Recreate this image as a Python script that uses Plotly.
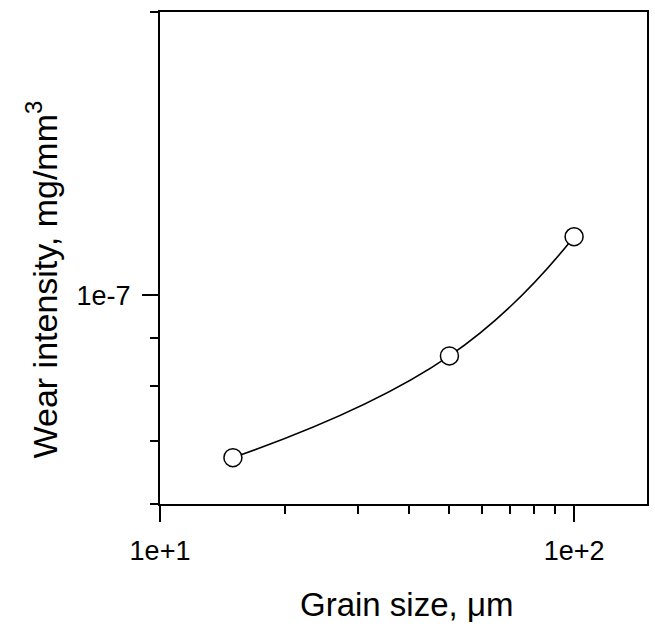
import plotly.graph_objects as go
import math

# Data
grain_size = [15, 50, 100]              # µm
wear_intensity = [6.72e-8, 8.62e-8, 1.154e-7]  # mg/mm^3

x_major_vals = [10, 100]
x_major_text = ["1e+1", "1e+2"]
x_minor_vals = [20, 30, 40, 50, 60, 70, 80, 90]
y_major_vals = [1e-7]
y_major_text = ["1e-7"]
y_minor_vals = [6e-8, 7e-8, 8e-8, 9e-8, 2e-7]

x_range = [10, 150]
y_range = [6e-8, 2e-7]

FONT = "Liberation Sans, Arial, sans-serif"

W, H = 655, 627
L, R, T, B = 160, 6, 12, 123
pw, ph = W - L - R, H - T - B


def px_to_paper_x(px):
    return (px - L) / pw


def px_to_paper_y(py):
    return (H - B - py) / ph


fig = go.Figure()
fig.add_trace(go.Scatter(
    x=grain_size, y=wear_intensity,
    mode="lines+markers",
    line=dict(color="black", width=1.6, shape="spline", smoothing=1.3),
    marker=dict(symbol="circle", size=18, color="white",
                line=dict(color="black", width=1.5)),
    showlegend=False,
))

axis_common = dict(
    showgrid=False, zeroline=False,
    showline=True, linecolor="black", linewidth=2, mirror=True,
    ticks="outside", ticklen=16, tickwidth=2, tickcolor="black",
    tickfont=dict(family=FONT, size=27, color="black"),
    tickmode="array",
)

fig.update_xaxes(
    type="log", range=[math.log10(x_range[0]), math.log10(x_range[1])],
    tickvals=x_major_vals, ticktext=x_major_text,
    minor=dict(tickmode="array", tickvals=x_minor_vals, ticks="outside",
               ticklen=8, tickwidth=2, tickcolor="black", showgrid=False),
    ticklabelstandoff=6,
    **axis_common,
)
fig.update_yaxes(
    type="log", range=[math.log10(y_range[0]), math.log10(y_range[1])],
    tickvals=y_major_vals, ticktext=y_major_text,
    minor=dict(tickmode="array", tickvals=y_minor_vals, ticks="outside",
               ticklen=8, tickwidth=2, tickcolor="black", showgrid=False),
    ticklabelstandoff=6,
    **axis_common,
)

fig.add_annotation(
    text="Grain size, \u03bcm", xref="paper", yref="paper",
    x=px_to_paper_x(408), y=px_to_paper_y(604),
    xanchor="center", yanchor="middle", showarrow=False,
    font=dict(family=FONT, size=33, color="black"),
)
fig.add_annotation(
    text="Wear intensity, mg/mm<sup>3</sup>", xref="paper", yref="paper",
    x=px_to_paper_x(41), y=px_to_paper_y(279),
    xanchor="center", yanchor="middle", showarrow=False, textangle=-90,
    font=dict(family=FONT, size=34, color="black"),
)

fig.update_layout(
    width=W, height=H,
    margin=dict(l=L, r=R, t=T, b=B),
    paper_bgcolor="white", plot_bgcolor="white",
)

fig.write_html(
    "out.html",
    config={"displayModeBar": False},
    post_script="document.body.style.margin='0';document.body.style.overflow='hidden';",
)
